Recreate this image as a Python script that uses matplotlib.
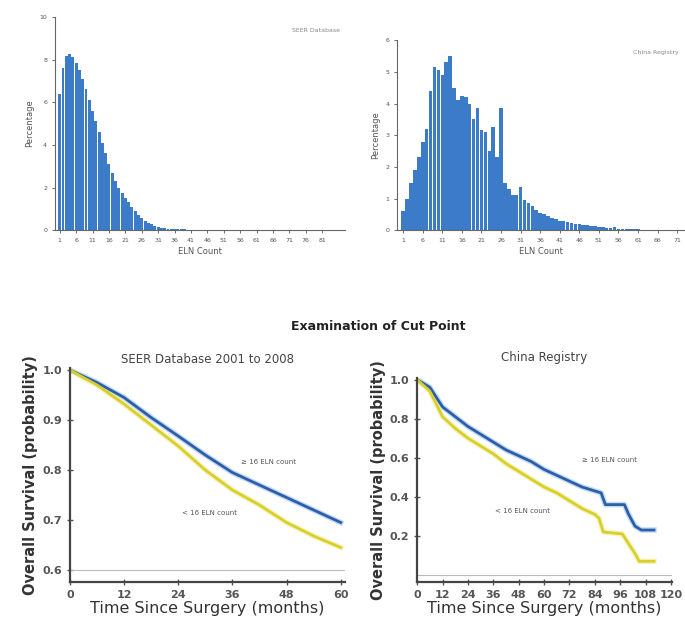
import matplotlib.pyplot as plt
import numpy as np

# ELN count histograms (percentage of patients per ELN count)
seer_eln = list(range(1, 61))
seer_pct = [6.4, 7.6, 8.15, 8.25, 8.1, 7.85, 7.5, 7.1, 6.6, 6.1,
            5.6, 5.1, 4.6, 4.1, 3.6, 3.1, 2.7, 2.3, 2.0, 1.75,
            1.5, 1.3, 1.1, 0.9, 0.7, 0.55, 0.45, 0.35, 0.28, 0.2,
            0.15, 0.12, 0.1, 0.08, 0.07, 0.06, 0.05, 0.04, 0.035, 0.03,
            0.03, 0.025, 0.02, 0.02, 0.02, 0.015, 0.015, 0.01, 0.01, 0.01,
            0.01, 0.01, 0.01, 0.01, 0.01, 0.01, 0.01, 0.01, 0.01, 0.01]

china_eln = list(range(1, 71))
china_pct = [0.6, 1.0, 1.5, 1.9, 2.3, 2.8, 3.2, 4.4, 5.15, 5.05,
             4.9, 5.3, 5.5, 4.5, 4.1, 4.25, 4.2, 4.0, 3.5, 3.85,
             3.15, 3.1, 2.5, 3.25, 2.3, 3.85, 1.5, 1.3, 1.1, 1.1,
             1.35, 0.95, 0.85, 0.75, 0.65, 0.55, 0.5, 0.45, 0.4, 0.35,
             0.3, 0.28, 0.25, 0.22, 0.2, 0.2, 0.16, 0.15, 0.12, 0.12,
             0.1, 0.1, 0.08, 0.07, 0.1, 0.05, 0.05, 0.04, 0.03, 0.03,
             0.03, 0.02, 0.02, 0.02, 0.02, 0.01, 0.01, 0.01, 0.01, 0.01]

# survival curves
seer_t = [0, 6, 12, 18, 24, 30, 36, 42, 48, 54, 60]
seer_hi = [1.0, 0.975, 0.945, 0.905, 0.868, 0.83, 0.795, 0.77, 0.745, 0.72, 0.695]
seer_lo = [1.0, 0.97, 0.932, 0.89, 0.848, 0.80, 0.76, 0.73, 0.695, 0.668, 0.645]

china_t_hi = [0, 6, 12, 18, 24, 30, 36, 42, 48, 54, 60, 66, 72, 78, 84, 87, 89, 98, 100, 103, 106, 112]
china_hi = [1.0, 0.96, 0.86, 0.81, 0.76, 0.72, 0.68, 0.64, 0.61, 0.58, 0.54, 0.51,
            0.48, 0.45, 0.43, 0.42, 0.36, 0.36, 0.31, 0.25, 0.23, 0.23]
china_t_lo = [0, 6, 12, 18, 24, 30, 36, 42, 48, 54, 60, 66, 72, 78, 84, 86, 88, 97, 100, 103, 105, 112]
china_lo = [1.0, 0.94, 0.81, 0.75, 0.70, 0.66, 0.62, 0.57, 0.53, 0.49, 0.45, 0.42,
            0.38, 0.34, 0.31, 0.29, 0.22, 0.21, 0.16, 0.11, 0.07, 0.07]

bar_col = '#3b7bc8'
blue = '#2d5ea8'
yellow = '#d8d02a'
grey = '#555555'

fig = plt.figure(figsize=(6.85, 6.29), dpi=100)


def hist_axes(rect, x, y, ymax, xmax, ticks, tag):
    ax = fig.add_axes(rect)
    ax.bar(x, y, width=0.9, color=bar_col, edgecolor='none')
    ax.set_xlim(-0.5, xmax)
    ax.set_ylim(0, ymax)
    ax.set_xticks(ticks)
    ax.set_xticklabels([str(t) for t in ticks])
    ax.set_yticks(np.arange(0, ymax + 0.1, 2 if ymax > 6 else 1))
    ax.tick_params(labelsize=4.5, colors=grey, length=2, width=0.6)
    for s in ['top', 'right']:
        ax.spines[s].set_visible(False)
    for s in ['left', 'bottom']:
        ax.spines[s].set_color('#666666')
        ax.spines[s].set_linewidth(0.8)
    ax.set_xlabel('ELN Count', fontsize=6, color=grey, labelpad=3)
    ax.set_ylabel('Percentage', fontsize=6, color=grey, labelpad=4)
    ax.text(0.9, 0.93, tag, transform=ax.transAxes, fontsize=4.5, color='#888888',
            ha='center')
    return ax


hist_axes([0.080, 0.634, 0.424, 0.339], seer_eln, seer_pct, 10, 88,
          list(range(1, 82, 5)), 'SEER Database')
hist_axes([0.580, 0.634, 0.420, 0.302], china_eln, china_pct, 6, 73,
          list(range(1, 72, 5)), 'China Registry')

fig.text(0.552, 1 - 327 / 629, 'Examination of Cut Point', ha='center', va='center',
         fontsize=9, fontweight='bold', color='#222222')


def km_axes(rect, xlim, ylim, xticks, yticks, title, pad):
    ax = fig.add_axes(rect)
    ax.set_xlim(*xlim)
    ax.set_ylim(*ylim)
    ax.set_xticks(xticks)
    ax.set_yticks(yticks)
    ax.set_yticklabels([f'{v:.1f}' for v in yticks])
    ax.tick_params(labelsize=8, colors='#555555', length=4, width=1, direction='inout')
    for lab in ax.get_xticklabels() + ax.get_yticklabels():
        lab.set_fontweight('bold')
    for s in ['top', 'right']:
        ax.spines[s].set_visible(False)
    for s in ['left', 'bottom']:
        ax.spines[s].set_color('#444444')
        ax.spines[s].set_linewidth(1.6)
    ax.set_xlabel('Time Since Surgery (months)', fontsize=11.5, color='#333333', labelpad=1)
    ax.set_ylabel('Overall Survival (probability)', fontsize=10.5, fontweight='bold',
                  color='#333333', labelpad=3)
    ax.set_title(title, fontsize=8.5, color='#444444', pad=pad)
    return ax


ax3 = km_axes([0.102, 0.0747, 0.402, 0.341], (0, 61), (0.576, 1.005),
              [0, 12, 24, 36, 48, 60], [0.6, 0.7, 0.8, 0.9, 1.0],
              'SEER Database 2001 to 2008', 3)
ax3.axhline(0.6, color='#bbbbbb', lw=0.8)
ax3.plot(seer_t, seer_hi, color='#9cc3ee', lw=4, alpha=0.6)
ax3.plot(seer_t, seer_lo, color='#f0eb9a', lw=4, alpha=0.6)
ax3.plot(seer_t, seer_hi, color=blue, lw=2)
ax3.plot(seer_t, seer_lo, color=yellow, lw=2)
ax3.text(44, 0.812, '\u2265 16 ELN count', fontsize=5, color=grey, ha='center')
ax3.text(31, 0.71, '< 16 ELN count', fontsize=5, color=grey, ha='center')

ax4 = km_axes([0.609, 0.0747, 0.372, 0.325], (0, 120.5), (-0.036, 1.01),
              list(range(0, 121, 12)), [0.2, 0.4, 0.6, 0.8, 1.0],
              'China Registry', 12)
ax4.axhline(0, color='#bbbbbb', lw=0.8)
ax4.plot(china_t_hi, china_hi, color='#9cc3ee', lw=4, alpha=0.6)
ax4.plot(china_t_lo, china_lo, color='#f0eb9a', lw=4, alpha=0.6)
ax4.plot(china_t_hi, china_hi, color=blue, lw=2)
ax4.plot(china_t_lo, china_lo, color=yellow, lw=2)
ax4.text(91, 0.58, '\u2265 16 ELN count', fontsize=5, color=grey, ha='center')
ax4.text(50, 0.315, '< 16 ELN count', fontsize=5, color=grey, ha='center')

fig.savefig('out.png', dpi=100)
